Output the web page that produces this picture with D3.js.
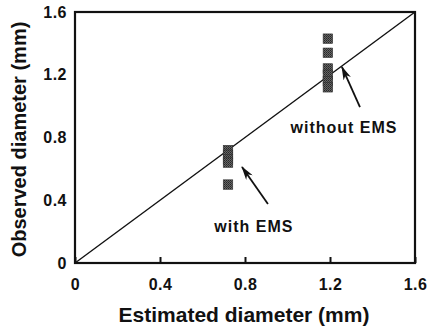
<!DOCTYPE html>
<html>
<head>
<meta charset="utf-8">
<script src="https://cdn.jsdelivr.net/npm/d3@7"></script>
<style>
  body { margin: 0; background: #fff; }
  text { font-family: "Liberation Sans", Arial, Helvetica, sans-serif; font-weight: bold; fill: #111; }
</style>
</head>
<body>
<div id="chart"></div>
<script>
// data (mm)
var withEmsX = [0.72, 0.72, 0.72, 0.72, 0.72];
var withEmsY = [0.72, 0.69, 0.66, 0.64, 0.50];
var withoutEmsX = [1.19, 1.19, 1.19, 1.19, 1.19, 1.19];
var withoutEmsY = [1.43, 1.34, 1.24, 1.20, 1.16, 1.12];
var tickValues = [0, 0.4, 0.8, 1.2, 1.6];
var lineOfIdentity = [[0, 0], [1.6, 1.6]];
var labels = ["with EMS", "without EMS"];
var labelPos = [[0.842, 0.20], [1.266, 0.83]];
var arrows = [[[0.908, 0.376], [0.786, 0.612]], [[1.341, 0.994], [1.256, 1.25]]];

var width = 432, height = 327;
var margin = { top: 12, right: 17, bottom: 64, left: 75 };

var svg = d3.select("#chart")
    .append("svg")
    .attr("width", width)
    .attr("height", height);

var x = d3.scaleLinear().domain([0, 1.6]).range([margin.left, width - margin.right]);
var y = d3.scaleLinear().domain([0, 1.6]).range([height - margin.bottom, margin.top]);

var fmt = function (d) { return d === 0 ? "0" : d3.format(".1f")(d); };

// x axis, ticks pointing inward
var gx = svg.append("g")
    .attr("transform", "translate(0," + y(0) + ")")
    .call(d3.axisBottom(x).tickValues(tickValues).tickSizeInner(-6).tickSizeOuter(0).tickPadding(16).tickFormat(fmt));
gx.select(".domain").remove();
gx.selectAll("line").attr("stroke", "#111").attr("stroke-width", 2);
gx.selectAll("text").style("font-size", "16px").style("font-family", null).attr("letter-spacing", "0.5");

var gy = svg.append("g")
    .attr("transform", "translate(" + x(0) + ",0)")
    .call(d3.axisLeft(y).tickValues(tickValues).tickSize(0).tickPadding(8).tickFormat(fmt));
gy.select(".domain").remove();
gy.selectAll("text").style("font-size", "16px").style("font-family", null).attr("letter-spacing", "0.5");

// frame
svg.append("rect")
    .attr("x", x(0))
    .attr("y", y(1.6))
    .attr("width", x(1.6) - x(0))
    .attr("height", y(0) - y(1.6))
    .attr("fill", "none")
    .attr("stroke", "#111")
    .attr("stroke-width", 2.2);

// 1:1 line
svg.append("path")
    .datum(lineOfIdentity)
    .attr("d", d3.line().x(function (d) { return x(d[0]); }).y(function (d) { return y(d[1]); }))
    .attr("stroke", "#111")
    .attr("stroke-width", 1.4)
    .attr("fill", "none");

// halftone-ish fill for squares
var pat = svg.append("defs").append("pattern")
    .attr("id", "dots")
    .attr("width", 2).attr("height", 2)
    .attr("patternUnits", "userSpaceOnUse");
pat.append("rect").attr("width", 2).attr("height", 2).attr("fill", "#666");
pat.append("rect").attr("width", 1).attr("height", 1).attr("fill", "#262626");
pat.append("rect").attr("x", 1).attr("y", 1).attr("width", 1).attr("height", 1).attr("fill", "#363636");

var s = 9.5;
var pts = withEmsX.map(function (d, i) { return [d, withEmsY[i]]; })
    .concat(withoutEmsX.map(function (d, i) { return [d, withoutEmsY[i]]; }));

svg.append("g")
    .selectAll("rect")
    .data(pts)
    .enter().append("rect")
    .attr("x", function (d) { return x(d[0]) - s / 2; })
    .attr("y", function (d) { return y(d[1]) - s / 2; })
    .attr("width", s)
    .attr("height", s)
    .attr("fill", "url(#dots)")
    .attr("stroke", "#333")
    .attr("stroke-width", 0.6);

// arrows
svg.select("defs").append("marker")
    .attr("id", "head")
    .attr("viewBox", "0 0 14 8")
    .attr("refX", 13)
    .attr("refY", 4)
    .attr("markerWidth", 14)
    .attr("markerHeight", 8)
    .attr("markerUnits", "userSpaceOnUse")
    .attr("orient", "auto")
    .append("path")
    .attr("d", "M0,0 L14,4 L0,8 L4,4 Z")
    .attr("fill", "#111");

svg.append("g")
    .selectAll("line")
    .data(arrows)
    .enter().append("line")
    .attr("x1", function (d) { return x(d[0][0]); })
    .attr("y1", function (d) { return y(d[0][1]); })
    .attr("x2", function (d) { return x(d[1][0]); })
    .attr("y2", function (d) { return y(d[1][1]); })
    .attr("stroke", "#111")
    .attr("stroke-width", 1.8)
    .attr("marker-end", "url(#head)");

svg.append("g")
    .selectAll("text")
    .data(labels)
    .enter().append("text")
    .attr("x", function (d, i) { return x(labelPos[i][0]); })
    .attr("y", function (d, i) { return y(labelPos[i][1]); })
    .attr("text-anchor", "middle")
    .attr("letter-spacing", "1")
    .style("font-size", "16px")
    .text(function (d) { return d; });

// axis titles
svg.append("text")
    .attr("x", (x(0) + x(1.6)) / 2 - 1)
    .attr("y", 322)
    .attr("text-anchor", "middle")
    .style("font-size", "21px")
    .text("Estimated diameter (mm)");

svg.append("text")
    .attr("transform", "translate(26," + (y(0.8) + 2) + ") rotate(-90)")
    .attr("text-anchor", "middle")
    .style("font-size", "20px")
    .text("Observed diameter (mm)");
</script>
</body>
</html>
